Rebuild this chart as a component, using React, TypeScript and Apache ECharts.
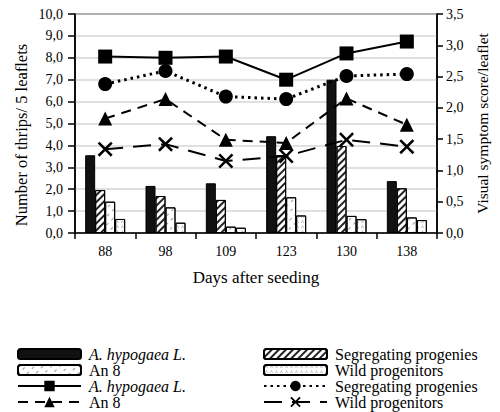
import React, { useEffect, useRef } from "react";
import * as echarts from "echarts";

const days = ["88", "98", "109", "123", "130", "138"];
const thripsHypogaea = [3.55, 2.15, 2.27, 4.42, 7.0, 2.37];
const thripsSegregating = [1.96, 1.69, 1.51, 3.56, 3.97, 2.04];
const thripsAn8 = [1.43, 1.17, 0.29, 1.63, 0.78, 0.71];
const thripsWild = [0.64, 0.47, 0.24, 0.8, 0.63, 0.59];
const scoreHypogaea = [2.82, 2.8, 2.82, 2.45, 2.87, 3.06];
const scoreSegregating = [2.38, 2.59, 2.18, 2.14, 2.51, 2.54];
const scoreAn8 = [1.83, 2.14, 1.49, 1.44, 2.15, 1.73];
const scoreWild = [1.34, 1.42, 1.15, 1.23, 1.49, 1.38];

const labels: Record<string, string> = {
  barA: "{i|A. hypogaea L.}",
  barSeg: "Segregating progenies",
  barAn8: "An 8",
  barWild: "Wild progenitors",
  lineA: "{i|A. hypogaea L.}",
  lineSeg: "Segregating progenies",
  lineAn8: "An 8",
  lineWild: "Wild progenitors",
};

const FONT = "Liberation Serif";
const fmt = (v: number) => v.toFixed(1).replace(".", ",");
const XSYM =
  "path://M0,1.2 L1.2,0 L5,3.8 L8.8,0 L10,1.2 L6.2,5 L10,8.8 L8.8,10 L5,6.2 L1.2,10 L0,8.8 L3.8,5 Z";

// legend layout: [series name, left, row center y, is line]
const legendLayout: [string, number, number, boolean][] = [
  ["barA", 17, 354, false],
  ["barAn8", 17, 370, false],
  ["lineA", 17, 386, true],
  ["lineAn8", 17, 402, true],
  ["barSeg", 263, 354, false],
  ["barWild", 263, 370, false],
  ["lineSeg", 263, 386, true],
  ["lineWild", 263, 402, true],
];

export default function App() {
  const ref = useRef<HTMLDivElement>(null);
  useEffect(() => {
    if (!ref.current) return;
    const chart = echarts.init(ref.current, null, { renderer: "svg" });
    const legendText = {
      fontFamily: FONT,
      fontSize: 16,
      color: "#000",
      lineHeight: 16,
      padding: [0, 0, 0, 3],
      rich: {
        i: { fontFamily: FONT, fontSize: 16, fontStyle: "italic", color: "#000", lineHeight: 16 },
      },
    };
    const legends = legendLayout.map(([name, left, cy, isLine]) => ({
      left,
      top: cy - 8,
      padding: 0,
      orient: "vertical",
      itemWidth: 63,
      itemHeight: isLine ? 13 : 10,
      selectedMode: false,
      data: [name],
      formatter: (n: string) => labels[n],
      textStyle: legendText,
    }));
    const barBase = {
      type: "bar",
      yAxisIndex: 0,
      barWidth: 10,
      barGap: "0%",
      z: 1,
    };
    const lineBase = {
      type: "line",
      yAxisIndex: 1,
      symbolSize: 14,
      z: 5,
    };
    chart.setOption({
      animation: false,
      textStyle: { fontFamily: FONT },
      grid: {
        left: 75,
        right: 63,
        top: 14,
        bottom: 179,
        show: true,
        borderColor: "#000",
        borderWidth: 1.5,
        backgroundColor: "transparent",
      },
      legend: legends,
      graphic: [
        {
          type: "text",
          x: 21,
          y: 135,
          rotation: Math.PI / 2,
          style: {
            text: "Number of thrips/ 5 leaflets",
            font: `16.5px "${FONT}"`,
            fill: "#000",
            align: "center",
            verticalAlign: "middle",
          },
        },
      ],
      xAxis: {
        type: "category",
        data: days,
        boundaryGap: true,
        name: "Days after seeding",
        nameLocation: "middle",
        nameGap: 36,
        nameTextStyle: { fontFamily: FONT, fontSize: 17, color: "#000" },
        axisLine: { lineStyle: { color: "#000", width: 1.5 } },
        axisTick: { show: true, length: 6, lineStyle: { color: "#000", width: 1.5 } },
        axisLabel: { fontFamily: FONT, fontSize: 14, color: "#000", margin: 11 },
        splitLine: { show: false },
      },
      yAxis: [
        {
          type: "value",
          min: 0,
          max: 10,
          interval: 1,
          position: "left",
          axisLine: { show: true, lineStyle: { color: "#000", width: 1.5 } },
          axisTick: { show: true, length: 7, lineStyle: { color: "#000", width: 1.5 } },
          axisLabel: { fontFamily: FONT, fontSize: 14, color: "#000", margin: 12, formatter: fmt },
          splitLine: { show: true, lineStyle: { color: "#d6d6d6", width: 1.5 } },
        },
        {
          type: "value",
          min: 0,
          max: 3.5,
          interval: 0.5,
          position: "right",
          name: "Visual symptom score/leaflet",
          nameLocation: "middle",
          nameRotate: 90,
          nameGap: 37,
          nameTextStyle: { fontFamily: FONT, fontSize: 15.5, color: "#000" },
          axisLine: { show: true, lineStyle: { color: "#000", width: 1.5 } },
          axisTick: { show: true, length: 6, lineStyle: { color: "#000", width: 1.5 } },
          axisLabel: { fontFamily: FONT, fontSize: 14, color: "#000", margin: 9, formatter: fmt },
          splitLine: { show: false },
        },
      ],
      series: [
        {
          ...barBase,
          name: "barA",
          data: thripsHypogaea,
          itemStyle: { color: "#111", borderColor: "#000", borderWidth: 1 },
        },
        {
          ...barBase,
          name: "barSeg",
          data: thripsSegregating,
          itemStyle: {
            color: "#fff",
            borderColor: "#000",
            borderWidth: 1,
            decal: {
              symbol: "rect",
              color: "#222",
              dashArrayX: [1, 0],
              dashArrayY: [2, 2.5],
              rotation: -Math.PI / 4,
            },
          },
        },
        {
          ...barBase,
          name: "barAn8",
          data: thripsAn8,
          itemStyle: {
            color: "#fff",
            borderColor: "#000",
            borderWidth: 1,
            decal: {
              symbol: "rect",
              color: "#999",
              dashArrayX: [[3, 4]],
              dashArrayY: [1, 5],
              rotation: -Math.PI / 4,
            },
          },
        },
        {
          ...barBase,
          name: "barWild",
          data: thripsWild,
          itemStyle: {
            color: "#fff",
            borderColor: "#000",
            borderWidth: 1,
            decal: {
              symbol: "path://M0,10 L5,0 L10,10 L8,10 L5,4 L2,10 Z",
              color: "#aaa",
              symbolSize: 1,
              dashArrayX: [[5, 0]],
              dashArrayY: [3, 2],
              rotation: 0,
            },
          },
        },
        {
          ...lineBase,
          name: "lineA",
          data: scoreHypogaea,
          symbol: "rect",
          itemStyle: { color: "#000" },
          lineStyle: { color: "#000", width: 2, type: "solid" },
        },
        {
          ...lineBase,
          name: "lineSeg",
          data: scoreSegregating,
          symbol: "circle",
          itemStyle: { color: "#000" },
          lineStyle: { color: "#000", width: 3, type: [2.5, 4] },
        },
        {
          ...lineBase,
          name: "lineAn8",
          data: scoreAn8,
          symbol: "triangle",
          itemStyle: { color: "#000" },
          lineStyle: { color: "#000", width: 2, type: [10, 7] },
        },
        {
          ...lineBase,
          name: "lineWild",
          data: scoreWild,
          symbol: XSYM,
          symbolSize: 15,
          itemStyle: { color: "#000" },
          lineStyle: { color: "#000", width: 2, type: [18, 10] },
        },
      ],
    });
    return () => chart.dispose();
  }, []);
  return (
    <div
      ref={ref}
      style={{ position: "fixed", left: 0, top: 0, width: 500, height: 412, background: "#fff" }}
    />
  );
}
